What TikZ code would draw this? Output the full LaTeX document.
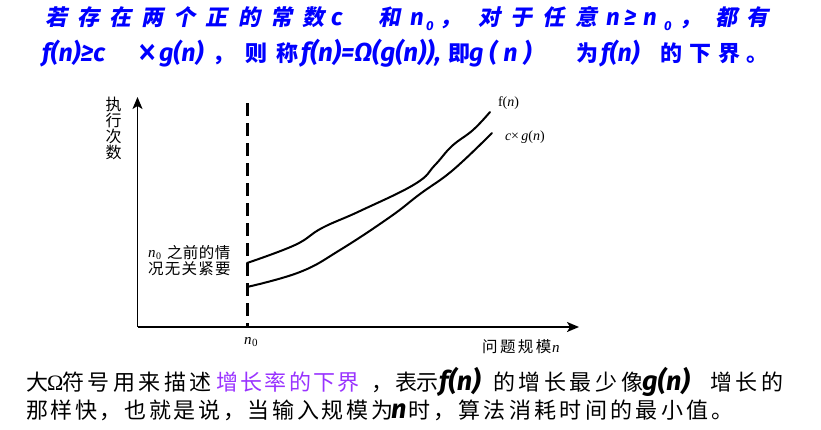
\documentclass[tikz,border=0pt]{standalone}
\usepackage{fontspec}
\setmainfont{Liberation Serif}
\newfontfamily\cjk{Noto Sans CJK SC}
\newfontfamily\cjksl[FakeSlant=0.2]{Noto Sans CJK SC}
\newfontfamily\lat{Fira Sans}
\usetikzlibrary{arrows.meta}
\definecolor{tblue}{RGB}{0,0,255}
\definecolor{tpurple}{RGB}{153,51,255}
\makeatletter
\newcommand\lsp[2]{\def\lsp@k{#2}\lsp@loop#1\lsp@end}
\def\lsp@loop#1{\ifx#1\lsp@end\else#1\kern\lsp@k\relax\expandafter\lsp@loop\fi}
\makeatother
\newcommand\subz[1]{\kern0.6pt\raisebox{-2pt}{\upshape\fontsize{#1}{#1}\selectfont 0}}
\begin{document}
\begin{tikzpicture}[x=1pt,y=-1pt,
  txt/.style={anchor=base west,inner sep=0pt,outer sep=0pt},
  ta/.style={txt,text=tblue,font=\cjksl\bfseries\fontsize{22}{22}\selectfont},
  tal/.style={txt,text=tblue,font=\lat\bfseries\itshape\fontsize{24}{24}\selectfont},
  tb/.style={txt,text=tblue,font=\cjk\bfseries\fontsize{22}{22}\selectfont},
  tbl/.style={txt,text=tblue,font=\lat\bfseries\itshape\fontsize{25}{25}\selectfont},
  bt/.style={txt,font=\cjk\fontsize{22}{22}\selectfont},
  btl/.style={txt,font=\lat\bfseries\itshape\fontsize{27}{27}\selectfont},
  lab/.style={txt,font=\cjk\fontsize{15.5}{15.5}\selectfont},
  labl/.style={txt,font=\itshape\fontsize{15}{15}\selectfont},
  axis/.style={line width=1.8pt,-{Stealth[length=12pt,width=10pt,inset=3pt]}},
  curve/.style={line width=2pt,line cap=round,line join=round}]
\useasboundingbox (0,0) rectangle (821,429);
% ---- title line 1
\node[ta] (a1) at (45,25) {\lsp{若存在两个正的常数}{10.2pt}};
\node[tal] (a2) at (331,25) {c};
\node[ta] (a3) at (378,25) {和};
\node[tal] (a4) at (410,25) {n};
\node[tal,font=\lat\bfseries\itshape\fontsize{13}{13}\selectfont] (a5) at (426,30) {0};
\node[ta] (a6) at (439,25) {，};
\node[ta] (a7) at (478,25) {\lsp{对于任意}{10.5pt}};
\node[tal] (a8) at (606,25) {n};
\node[tal] (a9) at (624,25) {≥};
\node[tal] (a10) at (643,25) {n};
\node[tal,font=\lat\bfseries\itshape\fontsize{13}{13}\selectfont] (a11) at (664,30) {0};
\node[ta] (a12) at (679,25) {，};
\node[ta] (a13) at (715,25) {\lsp{都有}{9pt}};
% ---- title line 2
\node[tbl] (b1) at (42,61) {f(n)≥c};
\node[tbl,font=\lat\fontsize{24}{24}\selectfont] (b2) at (137,61) {\raisebox{-5pt}{\scalebox{1.7}[1.9]{×}}};
\node[tbl] (b3) at (159,61) {g(n)};
\node[tb] (b4) at (212,61) {，};
\node[tb] (b5) at (245,61) {\lsp{则称}{9pt}};
\node[tbl,font=\lat\bfseries\itshape\fontsize{26}{26}\selectfont] (b6) at (301,61) {f(n)=Ω(g(n)),};
\node[tb] (b7) at (448,61) {即};
\node[tbl] (b8) at (469,61) {\lsp{g(n)}{6pt}};
\node[tb] (b9) at (576,61) {为};
\node[tbl] (b10) at (601,61) {f(n)};
\node[tb] (b11) at (660,61) {\lsp{的下界。}{7pt}};
% ---- axes
\coordinate (O) at (137.5,327);
\coordinate (Y) at (137.5,97);
\coordinate (X) at (579,327);
\draw[axis] (O) -- (Y);
\draw[axis] (O) -- (X);
\coordinate (D1) at (247,103);
\coordinate (D0) at (247,327);
\draw[line width=3pt,dash pattern=on 12.5pt off 7.5pt] (D1) -- (D0);
% ---- curves
\draw[curve] plot[smooth,tension=0.7] coordinates {(247,263) (295,245) (322,228) (360,211) (415,184) (435,165) (452,146) (473,130) (490,112)};
\draw[curve] plot[smooth,tension=0.7] coordinates {(247,287) (300,272) (340,250) (390,217) (420,194) (453,170) (492,133)};
% ---- diagram labels
\node[txt,anchor=north,align=center,font=\cjk\fontsize{16}{16}\selectfont] (yl) at (113.5,97) {执\\行\\次\\数};
\node[labl,font=\itshape\fontsize{15}{15}\selectfont] (l1) at (148,257.5) {n\subz{10}};
\node[lab] (l3) at (167,258) {\lsp{之前的情}{0.5pt}};
\node[lab] (l4) at (148,274.5) {\lsp{况无关紧要}{1.3pt}};
\node[labl] (n1) at (244,344) {n\subz{11}};
\node[lab] (xl) at (482,352) {\lsp{问题规模}{2.5pt}};
\node[labl] (xn) at (552,352) {n};
\node[txt,font=\fontsize{14}{14}\selectfont] (fl) at (498,106) {f(\textit{n})};
\node[txt,font=\fontsize{14}{14}\selectfont] (gl) at (505,140) {\textit{c}×\,\textit{g}(\textit{n})};
% ---- bottom line 1
\node[bt] (c1) at (26,390) {大};
\node[txt,font=\fontsize{22}{22}\selectfont] (c2) at (47,390) {Ω};
\node[bt] (c3) at (62,390) {\lsp{符号用来描述}{3.6pt}};
\node[bt,text=tpurple] (c4) at (216,390) {\lsp{增长率的下界}{2.4pt}};
\node[bt] (c5) at (371,390) {，};
\node[bt] (c6) at (395,390) {\lsp{表示}{-1pt}};
\node[btl] (c7) at (439,390) {f(n)};
\node[bt] (c8) at (493,390) {\lsp{的增长最少像}{3.6pt}};
\node[btl] (c9) at (642,390) {g(n)};
\node[bt] (c10) at (710,390) {\lsp{增长的}{3.5pt}};
% ---- bottom line 2
\node[bt] (d1) at (26,418) {\lsp{那样快，也就是说，当输入规模为}{2.65pt}};
\node[btl] (d2) at (391,418) {n};
\node[bt] (d3) at (408,418) {\lsp{时，算法消耗时间的最小值。}{3.3pt}};
\end{tikzpicture}
\end{document}
